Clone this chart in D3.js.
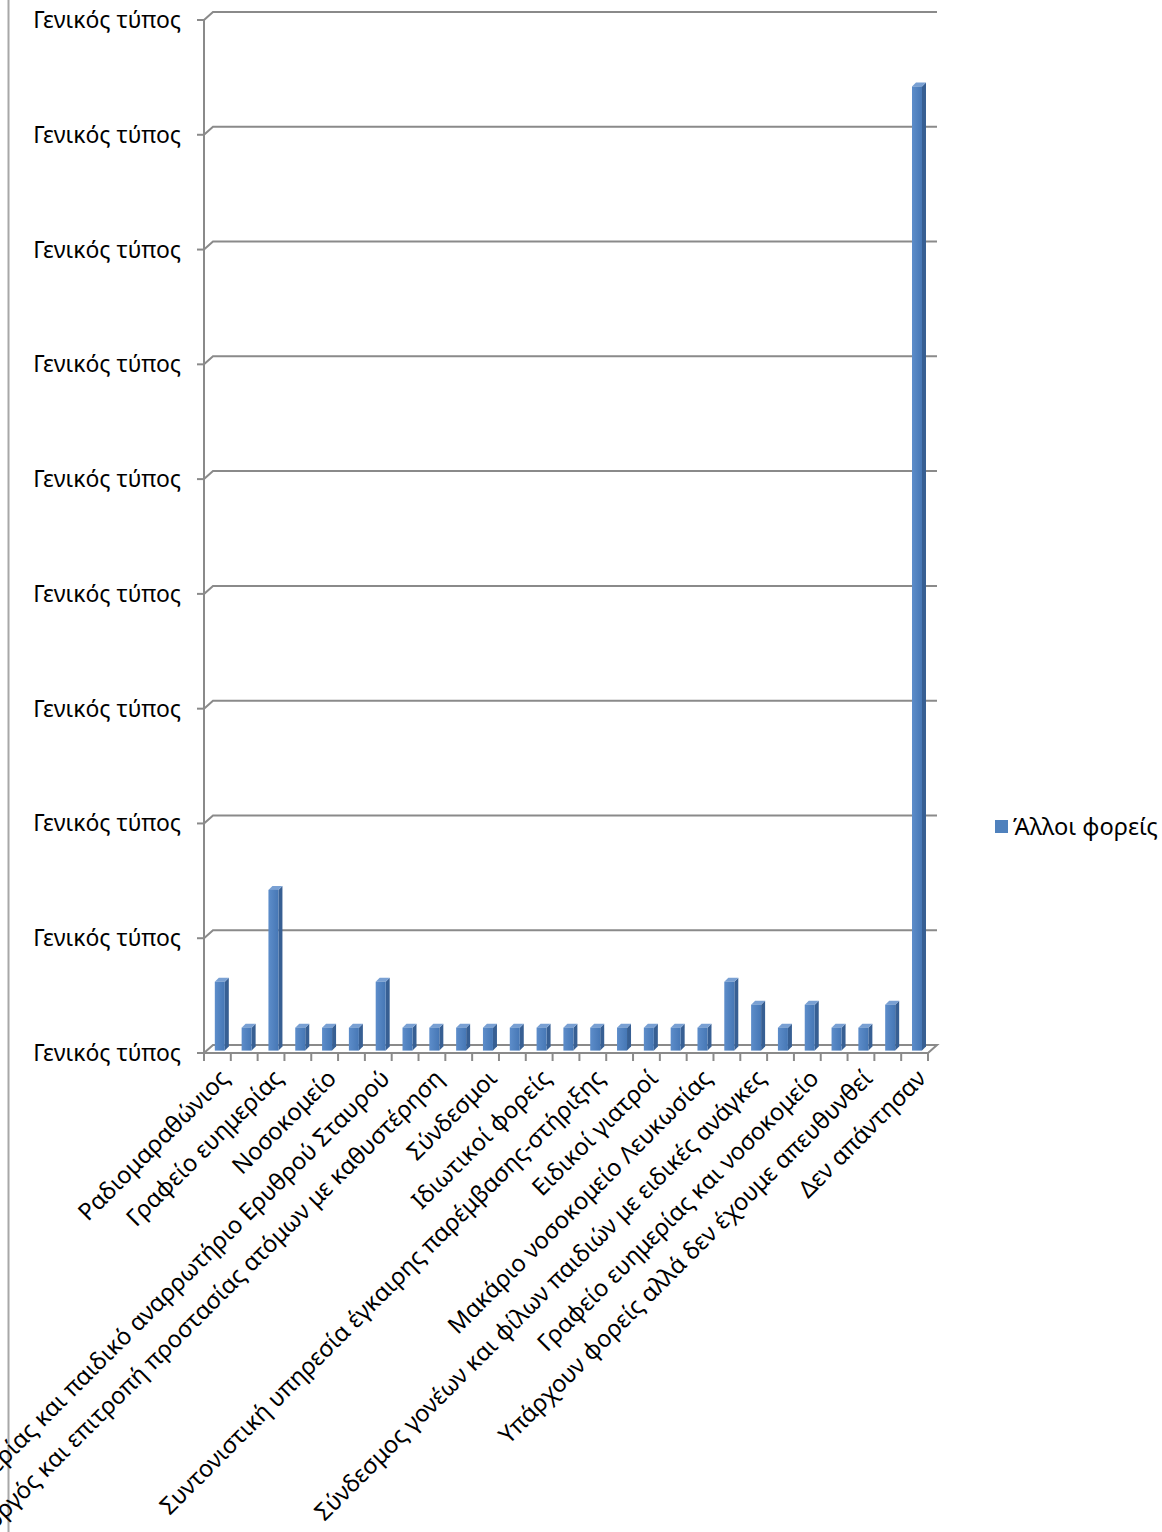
<!DOCTYPE html>
<html>
<head>
<meta charset="utf-8">
<script src="https://cdn.jsdelivr.net/npm/d3@7"></script>
<style>
  html, body { margin: 0; padding: 0; background: #fff; }
  svg { display: block; }
  text { font-family: "Noto Sans", "Open Sans", sans-serif; fill: #000; }
</style>
</head>
<body>
<svg id="chart" width="1162" height="1532"></svg>
<script>
// Category labels; only every second category carries a visible label
const categories = [
  "Ραδιομαραθώνιος", "", "Γραφείο ευημερίας", "", "Νοσοκομείο", "",
  "Γραφείο ευημερίας και παιδικό αναρρωτήριο Ερυθρού Σταυρού", "",
  "Κοινωνικός λειτουργός και επιτροπή προστασίας ατόμων με καθυστέρηση", "",
  "Σύνδεσμοι", "", "Ιδιωτικοί φορείς", "",
  "Συντονιστική υπηρεσία έγκαιρης παρέμβασης-στήριξης", "",
  "Ειδικοί γιατροί", "", "Μακάριο νοσοκομείο Λευκωσίας", "",
  "Σύνδεσμος γονέων και φίλων παιδιών με ειδικές ανάγκες", "",
  "Γραφείο ευημερίας και νοσοκομείο", "",
  "Υπάρχουν φορείς αλλά δεν έχουμε απευθυνθεί", "", "Δεν απάντησαν"
];
// Series "Άλλοι φορείς"
const seriesName = "Άλλοι φορείς";
const values = [3, 1, 7, 1, 1, 1, 3, 1, 1, 1, 1, 1, 1, 1, 1, 1, 1, 1, 1, 3, 2, 1, 2, 1, 1, 2, 42];
// Value axis ticks (the axis number format shows the text "Γενικός τύπος")
const yTicks = [0, 5, 10, 15, 20, 25, 30, 35, 40, 45];
const yTickLabel = "Γενικός τύπος";

const svg = d3.select("#chart");

// pick a font size so the axis label spans 148px
const probe = svg.append("text").attr("font-size", 20).text(yTickLabel);
const FONT = 20 * 148 / probe.node().getComputedTextLength();
probe.remove();
const LABEL_FONT = FONT * 1.035;

// depth offset of the pseudo-3D box (back wall relative to front)
const DX = 9, DY = -8;
const left = 204, right = 928;

const x = d3.scaleBand().domain(d3.range(categories.length)).range([left, right]).padding(0);
const y = d3.scaleLinear().domain([0, 45]).range([1053, 20]);

const grid = "#8a8a8a";

// outer border of the chart area at the left
svg.append("line").attr("x1", 8.5).attr("x2", 8.5).attr("y1", 0).attr("y2", 1532)
  .attr("stroke", "#a8a8a8").attr("stroke-width", 2);

// gridlines: side wall diagonal + back wall horizontal
const g = svg.append("g").attr("fill", "none").attr("stroke", grid).attr("stroke-width", 2);
yTicks.forEach(t => {
  if (t === 0) return;
  const yy = y(t);
  g.append("path").attr("d", `M${left},${yy}L${left + DX},${yy + DY}L${right + DX},${yy + DY}`);
});
// floor
g.append("path").attr("d", `M${left},${y(0)}L${left + DX},${y(0) + DY}L${right + DX},${y(0) + DY}L${right},${y(0)}Z`);
// value axis line
g.append("line").attr("x1", left).attr("x2", left).attr("y1", y(45)).attr("y2", y(0));
// value axis ticks
yTicks.forEach(t => {
  g.append("line").attr("x1", left - 7).attr("x2", left).attr("y1", y(t)).attr("y2", y(t));
});
// category ticks
d3.range(categories.length + 1).forEach(i => {
  const xx = i < categories.length ? x(i) : right;
  g.append("line").attr("x1", xx).attr("x2", xx).attr("y1", y(0)).attr("y2", y(0) + 8);
});

// bars
const defs = svg.append("defs");
const grad = defs.append("linearGradient").attr("id", "barFront").attr("x1", 0).attr("x2", 1).attr("y1", 0).attr("y2", 0);
grad.append("stop").attr("offset", "0%").attr("stop-color", "#5d8dca");
grad.append("stop").attr("offset", "100%").attr("stop-color", "#4677b5");

const bw = 10, bd = 4, shift = 2.4;
const bars = svg.append("g").selectAll("g").data(values).join("g");
bars.each(function (v, i) {
  const gg = d3.select(this);
  const x0 = x(i) + (x.bandwidth() - bw) / 2 + shift;
  const yb = y(0) - shift;
  const yt = y(v) - shift;
  gg.append("path").attr("fill", "#375f93")
    .attr("d", `M${x0 + bw},${yt}L${x0 + bw + bd},${yt - bd}L${x0 + bw + bd},${yb - bd}L${x0 + bw},${yb}Z`);
  gg.append("path").attr("fill", "#79a0d3")
    .attr("d", `M${x0},${yt}L${x0 + bw},${yt}L${x0 + bw + bd},${yt - bd}L${x0 + bd},${yt - bd}Z`);
  gg.append("rect").attr("x", x0).attr("y", yt).attr("width", bw).attr("height", yb - yt)
    .attr("fill", "url(#barFront)");
});

// value axis labels
const yl = svg.append("g").attr("font-size", FONT).attr("text-anchor", "end");
yTicks.forEach(t => {
  yl.append("text").attr("x", 181).attr("y", y(t)).attr("dy", "0.35em").text(yTickLabel);
});

// category labels rotated -45°
const xl = svg.append("g").attr("font-size", LABEL_FONT).attr("text-anchor", "end");
categories.forEach((c, i) => {
  if (!c) return;
  const cx = x(i) + x.bandwidth() / 2;
  xl.append("text")
    .attr("transform", `translate(${cx + 7},${y(0) + 21}) rotate(-45)`)
    .attr("dy", "0.35em")
    .text(c);
});

// legend
svg.append("rect").attr("x", 995).attr("y", 820).attr("width", 13).attr("height", 13).attr("fill", "#4f81bd");
svg.append("text").attr("x", 1013).attr("y", 827).attr("dy", "0.35em").attr("font-size", FONT * 1.03).text(seriesName);
</script>
</body>
</html>
